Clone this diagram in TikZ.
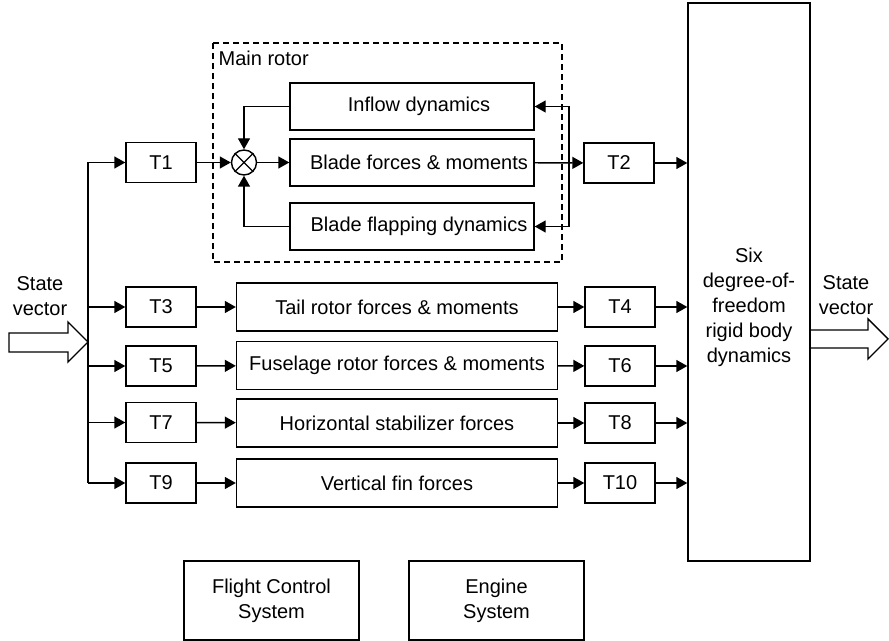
\documentclass[tikz,border=0pt]{standalone}
\usepackage{fontspec}
\setmainfont{Liberation Sans}
\usetikzlibrary{arrows.meta}

\begin{document}
\begin{tikzpicture}[x=0.5pt,y=-0.5pt,line width=0.7pt,
  font=\fontsize{10}{12.5}\selectfont,
  arr/.style={-{Triangle[length=5.5pt,width=6pt]}},
  tbox/.style={draw,minimum width=35pt,minimum height=20pt,inner sep=0pt},
  rotbox/.style={draw,minimum width=122pt,minimum height=23.5pt,inner sep=0pt},
  forcebox/.style={draw,minimum width=160.5pt,minimum height=24pt,inner sep=0pt},
  sysbox/.style={draw,minimum width=87.5pt,minimum height=39.5pt,inner sep=0pt,align=center}]
\useasboundingbox (0,0) rectangle (889,641);

\draw[line width=0.6pt,dash pattern=on 3pt off 2pt] (213,43) rectangle (562,262);
\node[anchor=west,inner sep=0pt] (mainrotor) at (218,58) {Main rotor};

\node[tbox] (t1) at (161,162.5) {T1};
\node[draw,circle,minimum size=12.5pt,inner sep=0pt] (sum) at (244,162.5) {};
\draw (sum.north east) -- (sum.south west) (sum.north west) -- (sum.south east);
\node[rotbox] (inflow) at (412,106.5) {\hspace{7pt}Inflow dynamics};
\node[rotbox] (blade) at (412,162.5) {\hspace{7pt}Blade forces \& moments};
\node[rotbox] (flap) at (412,226.5) {\hspace{7pt}Blade flapping dynamics};
\node[tbox] (t2) at (619,163) {T2};

\node[tbox] (t3) at (161,307) {T3};
\node[tbox] (t5) at (161,366) {T5};
\node[tbox] (t7) at (161,422.5) {T7};
\node[tbox] (t9) at (161,483) {T9};

\node[forcebox] (tail) at (397,307) {Tail rotor forces \& moments};
\node[forcebox] (fuse) at (397,365.5) {Fuselage rotor forces \& moments};
\node[forcebox] (hstab) at (397,423) {Horizontal stabilizer forces};
\node[forcebox] (vfin) at (397,483) {Vertical fin forces};

\node[tbox] (t4) at (620,307) {T4};
\node[tbox] (t6) at (620,366) {T6};
\node[tbox] (t8) at (620,423) {T8};
\node[tbox] (t10) at (620,483) {T10};

\node[draw,minimum width=61pt,minimum height=279pt,inner sep=0pt] (sixdof) at (749,282) {};
\node[align=center,inner sep=0pt] (sixtxt) at (749,307) {Six\\degree-of-\\freedom\\rigid body\\dynamics};

\node[sysbox] (fcs) at (271.5,600.5) {Flight Control\\System};
\node[sysbox] (engine) at (496.5,600.5) {Engine\\System};

\node[align=center,inner sep=0pt] (statein) at (40,296) {State\\vector};
\node[align=center,inner sep=0pt] (stateout) at (846,295) {State\\vector};
\draw (9,333) -- (68,333) -- (68,322) -- (88,342) -- (68,362) -- (68,352) -- (9,352) -- cycle;
\draw (810,330) -- (868,330) -- (868,319) -- (888,339) -- (868,359) -- (868,348) -- (810,348);

\coordinate (bustop) at (88,162.5);
\coordinate (busbot) at (88,483);
\draw (bustop) -- (busbot);
\draw[arr] (bustop) -- (t1);
\foreach \t in {t3,t5,t7,t9}
  \draw[arr] (\t.west -| bustop) -- (\t);

\draw[arr] (t1) -- (sum);
\draw[arr] (sum) -- (blade);
\draw[arr] (inflow.west) -| (sum.north);
\draw[arr] (flap.west) -| (sum.south);
\draw[arr] (blade) -- (t2);
\coordinate (fb) at (569,162.5);
\draw[arr] (fb) |- (inflow.east);
\draw[arr] (fb) |- (flap.east);
\draw[arr] (t2) -- (t2 -| sixdof.west);

\draw[arr] (t3) -- (tail);
\draw[arr] (t5) -- (fuse);
\draw[arr] (t7) -- (hstab);
\draw[arr] (t9) -- (vfin);
\draw[arr] (tail) -- (t4);
\draw[arr] (fuse) -- (t6);
\draw[arr] (hstab) -- (t8);
\draw[arr] (vfin) -- (t10);
\foreach \t in {t4,t6,t8,t10}
  \draw[arr] (\t) -- (\t -| sixdof.west);
\end{tikzpicture}
\end{document}
